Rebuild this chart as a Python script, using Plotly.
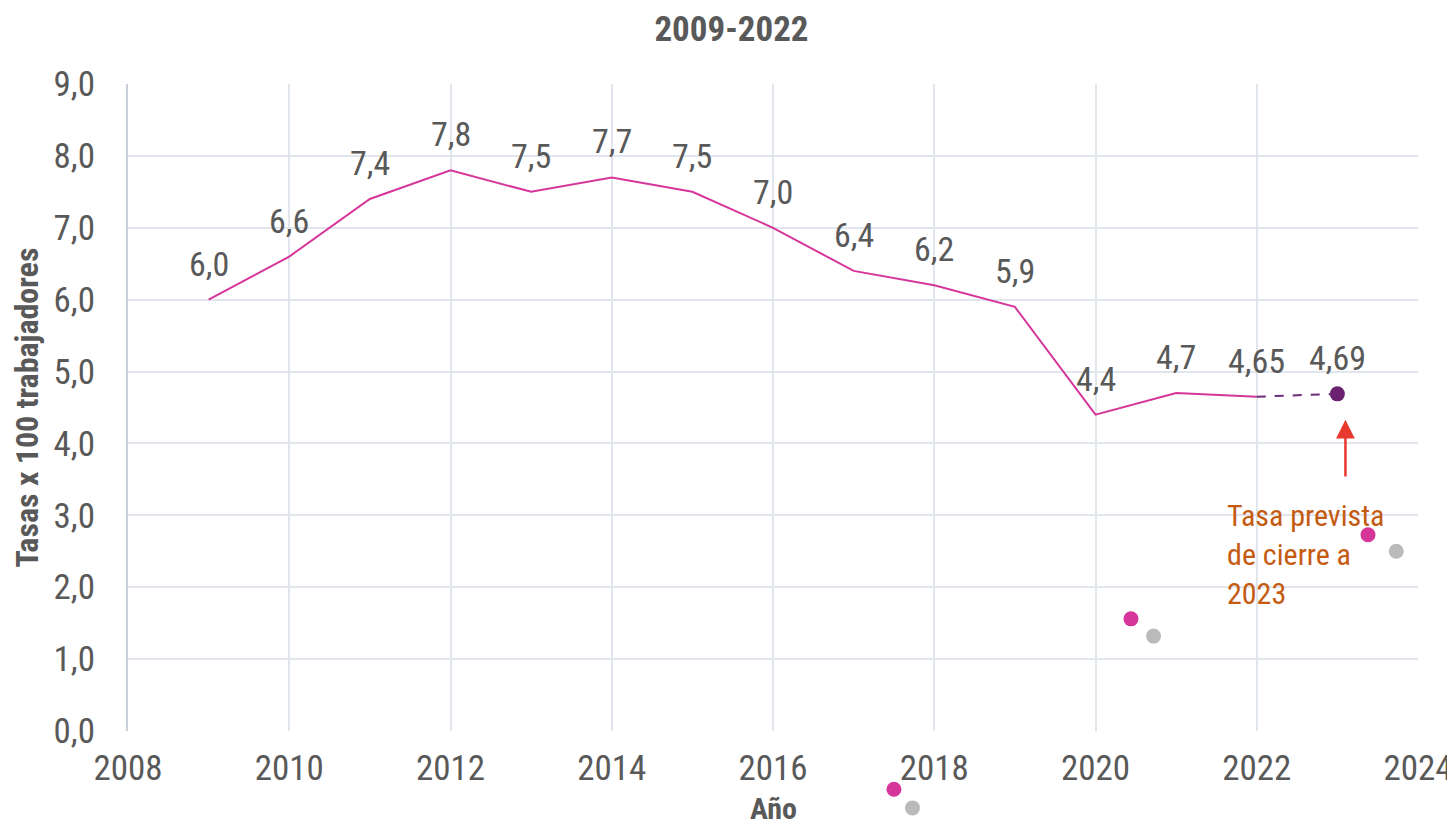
import plotly.graph_objects as go

years = [2009, 2010, 2011, 2012, 2013, 2014, 2015, 2016, 2017, 2018, 2019, 2020, 2021, 2022]
rates = [6.0, 6.6, 7.4, 7.8, 7.5, 7.7, 7.5, 7.0, 6.4, 6.2, 5.9, 4.4, 4.7, 4.65]
labels = ["6,0", "6,6", "7,4", "7,8", "7,5", "7,7", "7,5", "7,0", "6,4", "6,2", "5,9", "4,4", "4,7", "4,65"]

proj_years = [2022, 2023]
proj_rates = [4.65, 4.69]
proj_label = "4,69"

deco_x = [2017.5, 2020.44, 2023.38]
deco_y = [-0.81, 1.56, 2.73]
shadow_x = [2017.73, 2020.72, 2023.73]
shadow_y = [-1.07, 1.32, 2.50]

FONT = "Roboto Condensed, Liberation Sans Narrow, Arial Narrow, sans-serif"
GREY = "#595959"

# layout geometry (page body adds an 8px offset)
W, H = 1447, 820
ML, MR, MT, MB = 120, 37, 76, 8
PLOT_BOTTOM = 723          # pixel row of y=0 in figure coordinates
Y_MAX = 9
area_h = H - MT - MB
main_bottom = (H - MB - PLOT_BOTTOM) / area_h
px_per_unit = (PLOT_BOTTOM - MT) / Y_MAX
y2_min = -(H - MB - PLOT_BOTTOM) / px_per_unit

fig = go.Figure()

fig.add_trace(go.Scatter(
    x=years, y=rates, mode="lines",
    line=dict(color="#D6369A", width=2), hoverinfo="skip"))

fig.add_trace(go.Scatter(
    x=proj_years, y=proj_rates, mode="lines",
    line=dict(color="#6B2A7A", width=2, dash="dash"), hoverinfo="skip"))

fig.add_trace(go.Scatter(
    x=[proj_years[-1]], y=[proj_rates[-1]], mode="markers",
    marker=dict(color="#6B2070", size=15), hoverinfo="skip"))

fig.add_trace(go.Scatter(
    x=shadow_x, y=shadow_y, mode="markers", xaxis="x2", yaxis="y2",
    marker=dict(color="rgba(140,140,140,0.6)", size=15), hoverinfo="skip"))
fig.add_trace(go.Scatter(
    x=deco_x, y=deco_y, mode="markers", xaxis="x2", yaxis="y2",
    marker=dict(color="#D6369A", size=15), hoverinfo="skip"))

for xv, yv, lab in zip(years + [proj_years[-1]], rates + [proj_rates[-1]], labels + [proj_label]):
    fig.add_annotation(x=xv, y=yv, text=lab, showarrow=False, yshift=36,
                       xanchor="center", yanchor="middle",
                       font=dict(size=34, color=GREY, family=FONT))

fig.add_annotation(
    x=2023.1, y=4.33, ax=2023.1, ay=3.52, xref="x", yref="y", axref="x", ayref="y",
    showarrow=True, arrowhead=2, arrowsize=1.5, arrowwidth=2.5, arrowcolor="#E8392F", text="")

fig.add_annotation(
    x=2021.61, y=3.27, xref="x", yref="y", xanchor="left", yanchor="top", align="left",
    showarrow=False, text="Tasa prevista<br>de cierre a<br>2023",
    font=dict(size=30, color="#C55A11", family=FONT))

# x-axis title placed as paper annotation
fig.add_annotation(
    x=0.5, y=0.016, xref="paper", yref="paper", xanchor="center", yanchor="middle",
    showarrow=False, text="<b>Año</b>", font=dict(size=30, color=GREY, family=FONT))

fig.update_layout(
    width=W, height=H,
    margin=dict(l=ML, r=MR, t=MT, b=MB),
    paper_bgcolor="white", plot_bgcolor="rgba(0,0,0,0)",
    separators=",.",
    showlegend=False,
    title=dict(text="<b>2009-2022</b>", x=0.5, xanchor="center", y=0.975, yanchor="middle",
               font=dict(size=35, color=GREY, family=FONT)),
    font=dict(family=FONT, color=GREY),
    xaxis=dict(
        range=[2008, 2024], tickvals=list(range(2008, 2025, 2)), showgrid=True,
        gridcolor="#E1E5EC", gridwidth=1.5, zeroline=False, showline=False, automargin=False,
        tickfont=dict(size=35, color=GREY, family=FONT), ticks="", ticklabelstandoff=13),
    yaxis=dict(
        domain=[main_bottom, 1], range=[0, Y_MAX], tickvals=list(range(0, 10)), tickformat=".1f",
        showgrid=True, gridcolor="#E1E5EC", gridwidth=1.5, zeroline=False, showline=True,
        linecolor="#C9D0DC", linewidth=2, automargin=False,
        tickfont=dict(size=35, color=GREY, family=FONT), ticks="", ticklabelstandoff=24,
        title=dict(text="<b>Tasas x 100 trabajadores</b>", font=dict(size=32, color=GREY, family=FONT), standoff=12)),
    xaxis2=dict(range=[2008, 2024], domain=[0, 1], anchor="y2", visible=False, automargin=False),
    yaxis2=dict(range=[y2_min, Y_MAX], domain=[0, 1], anchor="x2", visible=False, automargin=False),
)

fig.write_html("out.html")
